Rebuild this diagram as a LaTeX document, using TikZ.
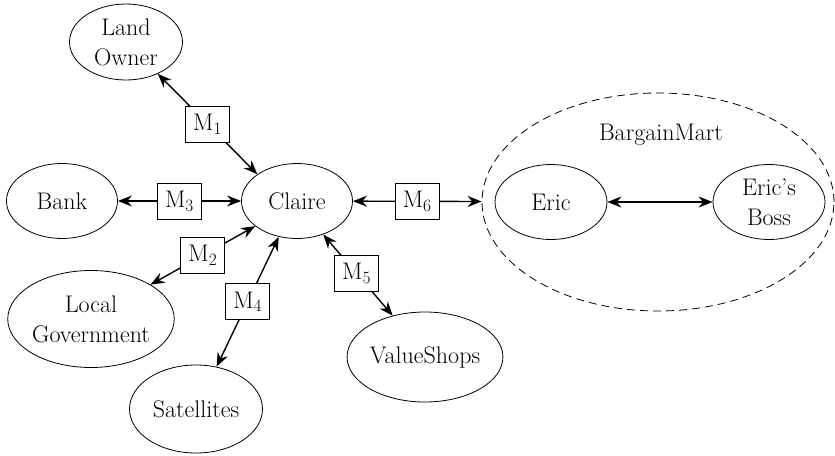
\documentclass[tikz,border=0pt]{standalone}
\usetikzlibrary{shapes.geometric,arrows.meta}
\begin{document}
\begin{tikzpicture}[x=1pt,y=-1pt,
  txt/.style={font=\fontsize{24}{30}\selectfont},
  ent/.style={draw, ellipse, line width=0.8pt, inner sep=0pt, align=center, txt},
  lab/.style={draw, fill=white, line width=0.8pt, inner sep=2pt,
    minimum width=44pt, minimum height=36pt, txt},
  conn/.style={{Stealth[length=14pt,width=11pt]}-{Stealth[length=14pt,width=11pt]}, line width=1.4pt}
]
\useasboundingbox (0,0) rectangle (835,455);
\node[draw, dash pattern=on 8pt off 5pt, ellipse, line width=0.8pt, minimum width=352pt, minimum height=218pt] (bm) at (658,202) {};
\node[txt] (bmlab) at (661,135) {BargainMart};
\node[ent, minimum width=111pt, minimum height=75pt] (claire) at (297,201) {Claire};
\node[ent, minimum width=113pt, minimum height=76pt] (land) at (126,42) {Land\\Owner};
\node[ent, minimum width=111pt, minimum height=75pt] (bank) at (62,201) {Bank};
\node[ent, minimum width=143pt, minimum height=97pt] (gov) at (91,319) {Local\\Government};
\node[ent, minimum width=133pt, minimum height=88pt] (sat) at (196,409) {Satellites};
\node[ent, minimum width=134pt, minimum height=90pt] (val) at (425,357) {ValueShops};
\node[ent, minimum width=112pt, minimum height=75pt] (eric) at (551,202) {Eric};
\node[ent, minimum width=112pt, minimum height=75pt] (boss) at (769,202) {Eric's\\Boss};

\draw[conn] (land.-45) -- node[lab, pos=0.5] (m1) {M$_1$} (claire.146);
\draw[conn] (bank) -- node[lab, pos=0.5] (m3) {M$_3$} (claire);
\draw[conn] (gov.30) -- node[lab, pos=0.5] (m2) {M$_2$} (claire.-149);
\draw[conn] (sat.64) -- node[lab, pos=0.5] (m4) {M$_4$} (claire.-117);
\draw[conn] (claire.-52) -- node[lab, pos=0.48] (m5) {M$_5$} (val.128);
\draw[conn] (claire) -- node[lab, pos=0.5] (m6) {M$_6$} (bm);
\draw[conn] (eric) -- (boss);
\end{tikzpicture}
\end{document}
